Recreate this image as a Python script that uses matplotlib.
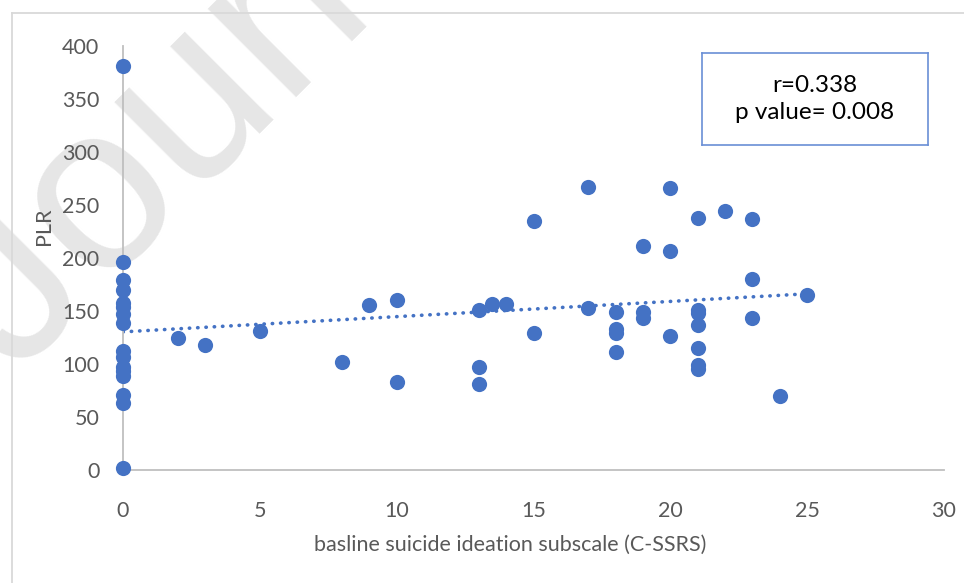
import numpy as np
import matplotlib
matplotlib.use("Agg")
import matplotlib.pyplot as plt
from matplotlib.lines import Line2D

# values
x_scores = [0] * 16 + [2, 3, 5, 8, 9, 10, 10, 13, 13, 13, 13.5, 14, 15, 15,
                       17, 17, 18, 18, 18, 18, 19, 19, 19, 20, 20, 20,
                       21, 21, 21, 21, 21, 21, 21, 22, 23, 23, 23, 24, 25]
plr = [381, 196, 179, 170, 158, 154, 147, 139, 112, 107, 97, 93, 89, 71, 63, 2,
       125, 118, 131, 102, 156, 160, 83, 151, 97, 81, 157, 157, 235, 129,
       267, 153, 149, 133, 129, 111, 211, 149, 143, 266, 207, 126,
       238, 151, 148, 137, 115, 99, 95, 244, 237, 180, 143, 70, 165]
x_ticks = [0, 5, 10, 15, 20, 25, 30]
y_ticks = [0, 50, 100, 150, 200, 250, 300, 350, 400]
stats_text = "r=0.338\np value= 0.008"

blue = "#4472C4"
grey_txt = "#595959"
axis_grey = "#BFBFBF"

plt.rcParams['font.family'] = ['Lato', 'DejaVu Sans']

fig = plt.figure(figsize=(9.64, 5.83), dpi=100)

# watermark, sits behind the chart
fig.text(0.017, 0.353, "Journal Pre-proof", fontsize=170, color="#E6E6E6",
         rotation=45, rotation_mode="anchor", ha="left", va="baseline",
         family="Liberation Sans", zorder=-1)

# chart frame (only top and left visible)
fig.add_artist(Line2D([12 / 964, 12 / 964], [0, 1 - 13 / 583],
                      color="#D9D9D9", lw=1.3, transform=fig.transFigure))
fig.add_artist(Line2D([12 / 964, 1], [1 - 13 / 583, 1 - 13 / 583],
                      color="#D9D9D9", lw=1.3, transform=fig.transFigure))

ax = fig.add_axes([123 / 964, 1 - 470 / 583, 821 / 964, 424 / 583])
ax.patch.set_alpha(0)

ax.scatter(x_scores, plr, s=120, color=blue, zorder=3, clip_on=False,
           linewidths=0)

# linear trend line over the data range
xs = np.array(x_scores, dtype=float)
k, b = np.polyfit(xs, np.array(plr, dtype=float), 1)
xl = np.array([xs.min(), xs.max()])
ax.plot(xl, k * xl + b, color=blue, lw=2.6, linestyle=(0, (0.1, 2.2)),
        dash_capstyle="round", zorder=2)

ax.set_xlim(0, 30)
ax.set_ylim(0, 400)
ax.set_xticks(x_ticks)
ax.set_yticks(y_ticks)
ax.tick_params(length=0, labelsize=15.5, labelcolor=grey_txt)
ax.tick_params(axis="x", pad=22)
ax.tick_params(axis="y", pad=17)
for side in ["top", "right"]:
    ax.spines[side].set_visible(False)
for side in ["left", "bottom"]:
    ax.spines[side].set_color(axis_grey)
    ax.spines[side].set_linewidth(1.3)

fig.text(510 / 964, 1 - 545 / 583, "basline suicide ideation subscale (C-SSRS)",
         fontsize=15.5, color=grey_txt, ha="center", va="center")
fig.text(44 / 964, 1 - 226 / 583, "PLR", fontsize=15.5, color=grey_txt,
         ha="center", va="center", rotation=90)

# stats box
box = fig.add_axes([702 / 964, 1 - 145 / 583, 226 / 964, 92 / 583])
box.set_xticks([])
box.set_yticks([])
for sp in box.spines.values():
    sp.set_color("#6A8FD6")
    sp.set_linewidth(1.2)
box.text(0.5, 0.5, stats_text, ha="center", va="center", fontsize=17.5,
         color="black", linespacing=1.32, transform=box.transAxes)

fig.savefig("out.png", dpi=100)
